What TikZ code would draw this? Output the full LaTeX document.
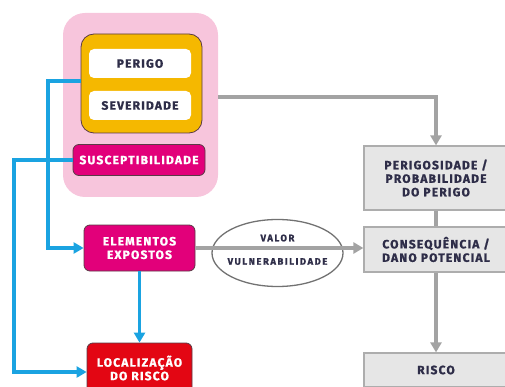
\documentclass[tikz,border=0pt]{standalone}
\usepackage{fontspec}
\setmainfont{Fira Sans}
\usetikzlibrary{arrows.meta,shapes.geometric}
\definecolor{pinkbg}{HTML}{F7C5DC}
\definecolor{amber}{HTML}{F5B800}
\definecolor{magent}{HTML}{E2007A}
\definecolor{redbox}{HTML}{E30613}
\definecolor{graybox}{HTML}{E6E6E6}
\definecolor{grayedge}{HTML}{ADADAD}
\definecolor{grayline}{HTML}{A3A3A3}
\definecolor{bluel}{HTML}{1AA3E1}
\definecolor{navy}{HTML}{2E2D48}
\definecolor{darkedge}{HTML}{5A3A45}
\tikzset{
  lbl/.style={font=\bfseries\fontsize{12}{13.5}\selectfont\addfontfeature{LetterSpace=10,FakeBold=1.2}, align=center, inner sep=0pt},
  whitebox/.style={lbl, fill=white, rounded corners=5pt, text=navy, minimum width=102pt, minimum height=29pt},
  magbox/.style={lbl, fill=magent, draw=darkedge, line width=0.8pt, rounded corners=6pt, text=white},
  graynode/.style={lbl, fill=graybox, draw=grayedge, line width=1.2pt, text=navy, minimum width=144pt},
  bluearrow/.style={draw=bluel, line width=3.2pt, -{Triangle[length=10pt,width=11pt]}},
  grayarrow/.style={draw=grayline, line width=3.2pt, -{Triangle[length=10pt,width=11pt]}},
  grayln/.style={draw=grayline, line width=3.2pt},
  smalllbl/.style={lbl, font=\bfseries\fontsize{9.5}{11}\selectfont\addfontfeature{LetterSpace=16,FakeBold=1.2}, text=navy},
}
\begin{document}
\begin{tikzpicture}[x=1pt,y=-1pt]
\useasboundingbox (0,0) rectangle (505,387);
\node[fill=pinkbg, rounded corners=22pt, minimum width=155pt, minimum height=184pt, inner sep=0pt] (pink) at (140.5,105) {};
\node[fill=amber, draw=darkedge, line width=0.8pt, rounded corners=13pt, minimum width=121pt, minimum height=99pt, inner sep=0pt] (orange) at (141.5,83.5) {};
\node[whitebox] (perigo) at (140,63.5) {PERIGO};
\node[whitebox] (sever) at (140,105.5) {SEVERIDADE};
\node[magbox, minimum width=132pt, minimum height=31pt] (susc) at (139,160) {SUSCEPTIBILIDADE};
\node[magbox, minimum width=111pt, minimum height=46pt] (elem) at (139.5,248) {ELEMENTOS\\EXPOSTOS};
\node[magbox, fill=redbox, minimum width=105pt, minimum height=50pt] (loc) at (139.5,368) {LOCALIZAÇÃO\\DO RISCO};
\node[graynode, minimum height=64pt] (perig) at (436,178) {PERIGOSIDADE /\\PROBABILIDADE\\DO PERIGO};
\node[graynode, minimum height=45pt] (conseq) at (436,249.5) {CONSEQUÊNCIA /\\DANO POTENCIAL};
\node[graynode, minimum height=34pt] (risco) at (436,370) {RISCO};
\node[ellipse, draw=grayline!70!black, line width=1.3pt, minimum width=131pt, minimum height=67pt, inner sep=0pt] (ell) at (277.5,253) {};
\node[smalllbl] (valor) at (277.5,238) {VALOR};
\node[smalllbl] (vuln) at (277.5,261.5) {VULNERABILIDADE};
\coordinate (g1) at (0,97);
\coordinate (bx1) at (48,0);
\coordinate (bx2) at (14,0);
\coordinate (lw) at ([yshift=-4pt]loc.west);
% blue connectors
\draw[bluearrow] ([yshift=2.5pt]orange.west) -| (bx1 |- elem.west) -- (elem.west);
\draw[bluearrow] (susc.west) -| (bx2 |- lw) -- (lw);
\draw[bluearrow] (elem.south) -- (elem.south |- loc.north);
% gray connectors
\draw[grayarrow] (pink.east |- g1) -| (perig.north);
\draw[grayln] (perig.south) -- (conseq.north);
\draw[grayarrow] (conseq.south) -- (risco.north);
\draw[grayarrow] (elem.east) -- (elem.east -| conseq.west);
\end{tikzpicture}
\end{document}
